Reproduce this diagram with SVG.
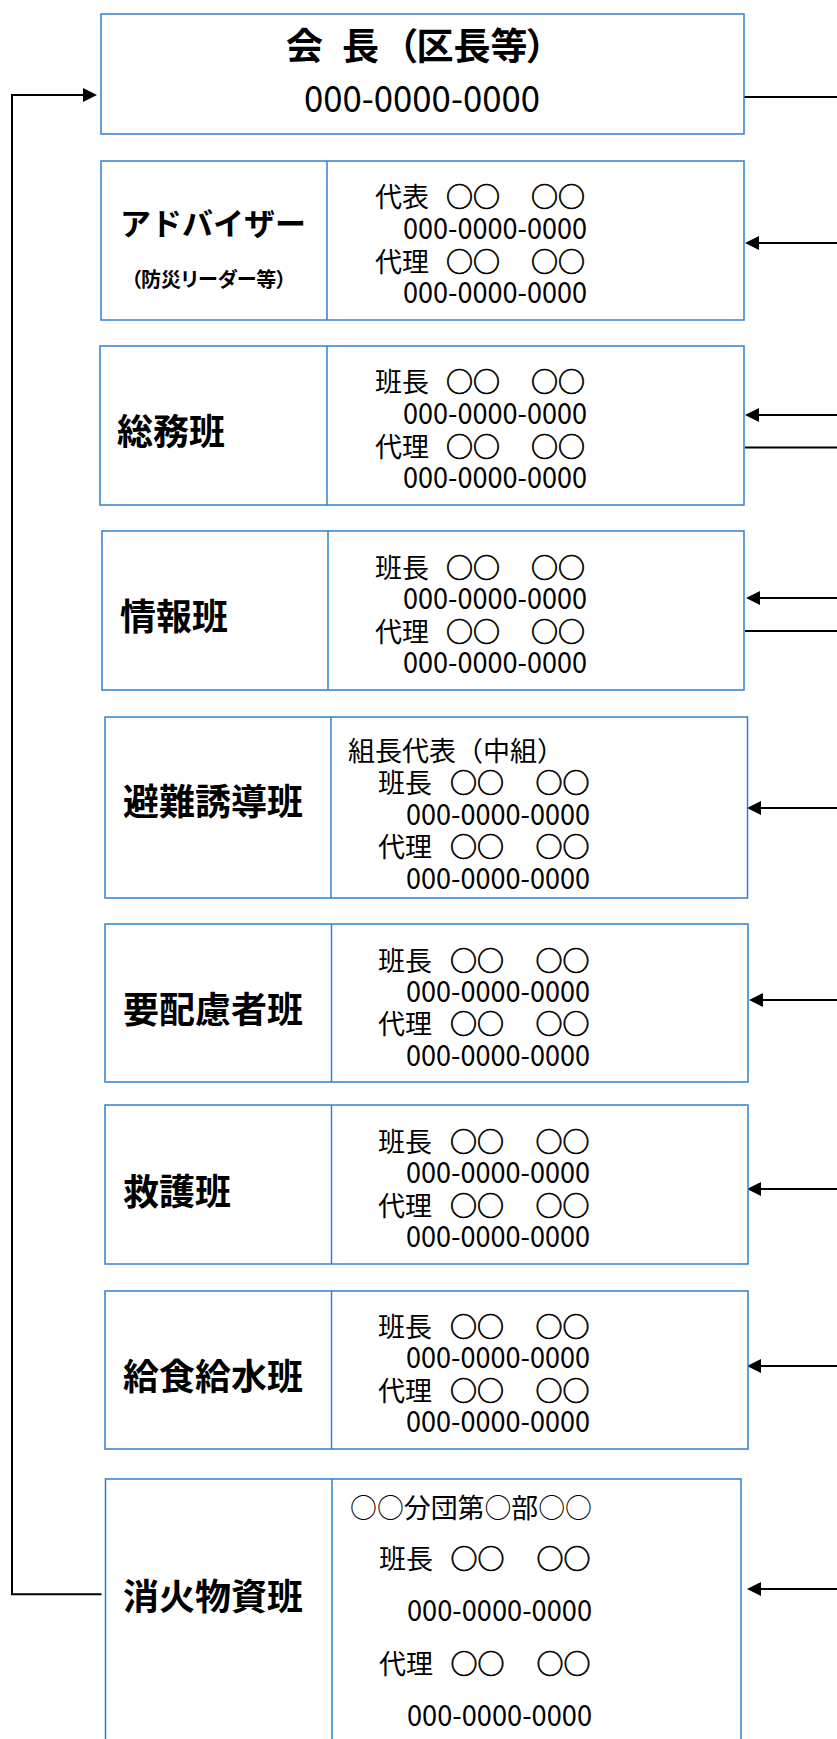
<svg xmlns="http://www.w3.org/2000/svg" width="837" height="1739" viewBox="0 0 837 1739">
<style>
.box{fill:#fff;stroke:#2f80d2;stroke-width:1.5}
.div{stroke:#2f80d2;stroke-width:1.5}
.con{fill:none;stroke:#000;stroke-width:2}
.t{font-family:"Noto Sans CJK JP","Noto Sans",sans-serif;fill:#000}
.lab{font-size:36px;font-weight:bold}
.row{font-size:27px}
.c{stroke:#000;stroke-width:0.7}
.ph{font-size:29px}
.palt{font-feature-settings:"palt"}
</style>
<defs>
<marker id="ah" viewBox="0 -7 14 14" markerWidth="14" markerHeight="14" refX="0" refY="0" orient="auto" markerUnits="userSpaceOnUse">
<path d="M0,-7 L14,0 L0,7 z" fill="#000"/>
</marker>
</defs>
<g id="connectors">
<path class="con" d="M101.5,1594.3 H12 V95 H83" marker-end="url(#ah)"/>
<path class="con" d="M744,97 H837"/>
<path class="con" d="M837,243 H759" marker-end="url(#ah)"/>
<path class="con" d="M837,415 H759" marker-end="url(#ah)"/>
<path class="con" d="M837,447.5 H745"/>
<path class="con" d="M837,598 H760" marker-end="url(#ah)"/>
<path class="con" d="M837,631 H745"/>
<path class="con" d="M837,808 H761" marker-end="url(#ah)"/>
<path class="con" d="M837,1000 H763" marker-end="url(#ah)"/>
<path class="con" d="M837,1189 H761" marker-end="url(#ah)"/>
<path class="con" d="M837,1366 H761" marker-end="url(#ah)"/>
<path class="con" d="M837,1589 H761" marker-end="url(#ah)"/>
</g>
<g id="chair">
<rect class="box" x="101" y="14" width="643" height="120"/>
<text class="t" font-size="37" font-weight="bold" y="60"><tspan x="286">会</tspan><tspan x="342">長</tspan><tspan x="398" class="palt">（区長等）</tspan></text>
<text class="t" font-size="37" x="304" y="112" textLength="236" lengthAdjust="spacingAndGlyphs">000-0000-0000</text>
</g>
<g id="advisor">
<rect class="box" x="101" y="161" width="643" height="159"/>
<line class="div" x1="327" y1="161" x2="327" y2="320"/>
<text class="t" font-size="31" font-weight="bold" x="120" y="235">アドバイザー</text>
<text class="t palt" font-size="20" font-weight="bold" x="131" y="287">（防災リーダー等）</text>
<text class="t row" y="207"><tspan x="375">代表</tspan><tspan class="c" x="446">○○</tspan><tspan class="c" x="531">○○</tspan></text>
<text class="t ph" x="403" y="239" textLength="184" lengthAdjust="spacingAndGlyphs">000-0000-0000</text>
<text class="t row" y="272"><tspan x="375">代理</tspan><tspan class="c" x="446">○○</tspan><tspan class="c" x="531">○○</tspan></text>
<text class="t ph" x="403" y="303" textLength="184" lengthAdjust="spacingAndGlyphs">000-0000-0000</text>
</g>
<g id="soumu">
<rect class="box" x="100" y="346" width="644" height="159"/>
<line class="div" x1="327" y1="346" x2="327" y2="505"/>
<text class="t lab" x="117" y="445">総務班</text>
<text class="t row" y="392"><tspan x="375">班長</tspan><tspan class="c" x="446">○○</tspan><tspan class="c" x="531">○○</tspan></text>
<text class="t ph" x="403" y="424" textLength="184" lengthAdjust="spacingAndGlyphs">000-0000-0000</text>
<text class="t row" y="457"><tspan x="375">代理</tspan><tspan class="c" x="446">○○</tspan><tspan class="c" x="531">○○</tspan></text>
<text class="t ph" x="403" y="488" textLength="184" lengthAdjust="spacingAndGlyphs">000-0000-0000</text>
</g>
<g id="jouhou">
<rect class="box" x="102" y="531" width="642" height="159"/>
<line class="div" x1="328" y1="531" x2="328" y2="690"/>
<text class="t lab" x="120" y="630">情報班</text>
<text class="t row" y="578"><tspan x="375">班長</tspan><tspan class="c" x="446">○○</tspan><tspan class="c" x="531">○○</tspan></text>
<text class="t ph" x="403" y="609" textLength="184" lengthAdjust="spacingAndGlyphs">000-0000-0000</text>
<text class="t row" y="642"><tspan x="375">代理</tspan><tspan class="c" x="446">○○</tspan><tspan class="c" x="531">○○</tspan></text>
<text class="t ph" x="403" y="673" textLength="184" lengthAdjust="spacingAndGlyphs">000-0000-0000</text>
</g>
<g id="hinan">
<rect class="box" x="105" y="717" width="642.5" height="181"/>
<line class="div" x1="331" y1="717" x2="331" y2="898"/>
<text class="t lab" x="123" y="815">避難誘導班</text>
<text class="t row" x="348" y="761">組長代表（中組）</text>
<text class="t row" y="793"><tspan x="378">班長</tspan><tspan class="c" x="450">○○</tspan><tspan class="c" x="535.5">○○</tspan></text>
<text class="t ph" x="406" y="825" textLength="184" lengthAdjust="spacingAndGlyphs">000-0000-0000</text>
<text class="t row" y="857"><tspan x="378">代理</tspan><tspan class="c" x="450">○○</tspan><tspan class="c" x="535.5">○○</tspan></text>
<text class="t ph" x="406" y="889" textLength="184" lengthAdjust="spacingAndGlyphs">000-0000-0000</text>
</g>
<g id="youhairyo">
<rect class="box" x="105" y="924" width="643" height="158"/>
<line class="div" x1="331.5" y1="924" x2="331.5" y2="1082"/>
<text class="t lab" x="123" y="1023">要配慮者班</text>
<text class="t row" y="971"><tspan x="378">班長</tspan><tspan class="c" x="450">○○</tspan><tspan class="c" x="535.5">○○</tspan></text>
<text class="t ph" x="406" y="1002" textLength="184" lengthAdjust="spacingAndGlyphs">000-0000-0000</text>
<text class="t row" y="1034"><tspan x="378">代理</tspan><tspan class="c" x="450">○○</tspan><tspan class="c" x="535.5">○○</tspan></text>
<text class="t ph" x="406" y="1066" textLength="184" lengthAdjust="spacingAndGlyphs">000-0000-0000</text>
</g>
<g id="kyugo">
<rect class="box" x="105" y="1105" width="643" height="159"/>
<line class="div" x1="331.5" y1="1105" x2="331.5" y2="1264"/>
<text class="t lab" x="123" y="1205">救護班</text>
<text class="t row" y="1152"><tspan x="378">班長</tspan><tspan class="c" x="450">○○</tspan><tspan class="c" x="535.5">○○</tspan></text>
<text class="t ph" x="406" y="1183" textLength="184" lengthAdjust="spacingAndGlyphs">000-0000-0000</text>
<text class="t row" y="1216"><tspan x="378">代理</tspan><tspan class="c" x="450">○○</tspan><tspan class="c" x="535.5">○○</tspan></text>
<text class="t ph" x="406" y="1247" textLength="184" lengthAdjust="spacingAndGlyphs">000-0000-0000</text>
</g>
<g id="kyushoku">
<rect class="box" x="105" y="1291" width="643" height="158"/>
<line class="div" x1="331.5" y1="1291" x2="331.5" y2="1449"/>
<text class="t lab" x="123" y="1390">給食給水班</text>
<text class="t row" y="1337"><tspan x="378">班長</tspan><tspan class="c" x="450">○○</tspan><tspan class="c" x="535.5">○○</tspan></text>
<text class="t ph" x="406" y="1368" textLength="184" lengthAdjust="spacingAndGlyphs">000-0000-0000</text>
<text class="t row" y="1401"><tspan x="378">代理</tspan><tspan class="c" x="450">○○</tspan><tspan class="c" x="535.5">○○</tspan></text>
<text class="t ph" x="406" y="1432" textLength="184" lengthAdjust="spacingAndGlyphs">000-0000-0000</text>
</g>
<g id="shouka">
<rect class="box" x="105.5" y="1479" width="635.5" height="300"/>
<line class="div" x1="332" y1="1479" x2="332" y2="1779"/>
<text class="t lab" x="123" y="1610">消火物資班</text>
<text class="t row" x="350" y="1518" textLength="242" lengthAdjust="spacingAndGlyphs">○○分団第○部○○</text>
<text class="t row" y="1569"><tspan x="379">班長</tspan><tspan class="c" x="450.5">○○</tspan><tspan class="c" x="536.5">○○</tspan></text>
<text class="t ph" x="407" y="1621" textLength="185" lengthAdjust="spacingAndGlyphs">000-0000-0000</text>
<text class="t row" y="1674"><tspan x="379">代理</tspan><tspan class="c" x="450.5">○○</tspan><tspan class="c" x="536.5">○○</tspan></text>
<text class="t ph" x="407" y="1726" textLength="185" lengthAdjust="spacingAndGlyphs">000-0000-0000</text>
</g>
</svg>
